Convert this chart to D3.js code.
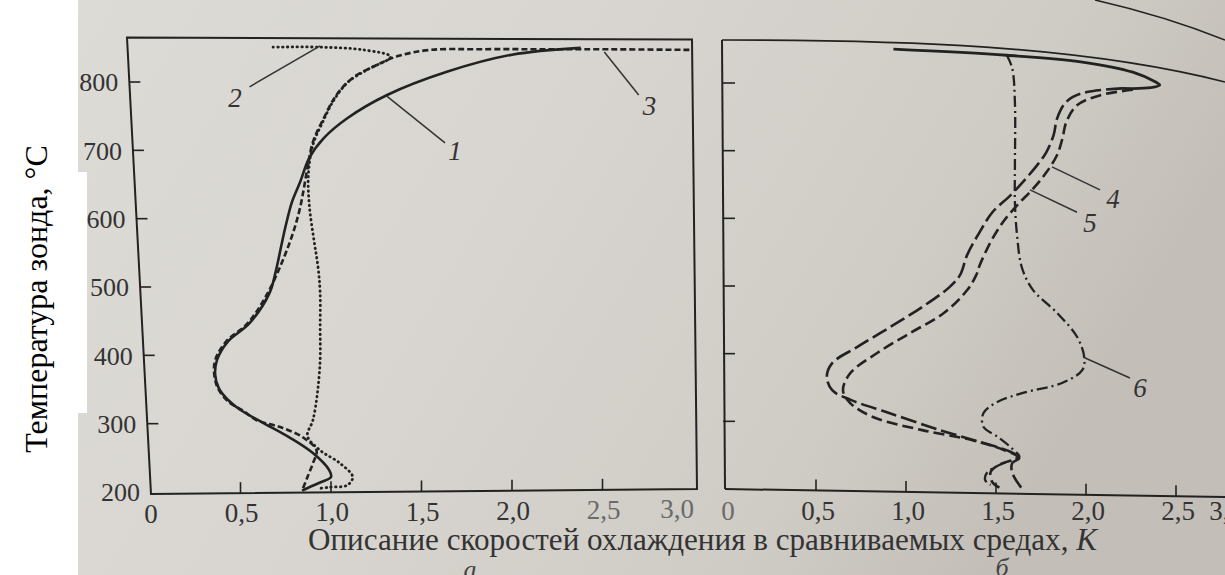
<!DOCTYPE html>
<html><head><meta charset="utf-8">
<script src="https://cdn.jsdelivr.net/npm/d3@7"></script>
<style>
body{margin:0;background:#fff}
svg{display:block}
</style>
</head><body>
<svg id="c" width="1225" height="575"></svg>
<script>
// ---------- data ----------
const xTicks = [0, 0.5, 1, 1.5, 2, 2.5, 3];
const xTickLabels = ["0", "0,5", "1,0", "1,5", "2,0", "2,5", "3,0"];
const yTicks = [200, 300, 400, 500, 600, 700, 800];
const yTickLabels = ["200", "300", "400", "500", "600", "700", "800"];

// panel а : [K, °C]
const curve1 = [[2.38,850],[2.0,840],[1.64,815],[1.31,781],[1.09,747],[0.96,718],[0.88,689],[0.83,654],[0.785,625],[0.75,590],[0.725,560],[0.70,529],[0.66,491],[0.55,447],[0.43,420],[0.37,393],[0.36,372],[0.38,352],[0.43,335],[0.50,320],[0.62,302],[0.77,280],[0.90,257],[0.99,232],[1.0,222],[0.95,215],[0.88,207],[0.84,202]];
const curve2 = [[0.68,851],[0.94,851],[1.18,847],[1.33,837],[1.20,818],[1.09,799],[1.01,771],[0.955,742],[0.90,708],[0.875,664],[0.88,620],[0.905,570],[0.928,530],[0.94,491],[0.94,440],[0.94,393],[0.925,345],[0.90,305],[0.87,282],[0.94,261],[1.05,242],[1.12,222],[1.09,210],[0.99,207],[0.93,205]];
const curve3 = [[2.98,847],[2.47,848],[2.19,848],[1.82,848],[1.55,847],[1.37,838],[1.23,822],[1.12,806],[1.03,781],[0.96,747],[0.90,712],[0.87,674],[0.83,617],[0.79,579],[0.735,540],[0.65,491],[0.54,447],[0.42,420],[0.36,393],[0.355,372],[0.375,352],[0.43,333],[0.52,318],[0.59,305],[0.72,295],[0.845,280],[0.92,261],[0.90,242],[0.87,222],[0.845,205]];

// panel б
const commonTop = [[0.93,850],[1.56,841],[1.98,831],[2.26,816],[2.39,801],[2.41,797],[2.36,793],[2.2,792]];
const curve4 = [[2.26,790],[2.08,782],[1.95,767],[1.89,742],[1.87,719],[1.84,694],[1.78,668],[1.71,645],[1.62,620],[1.54,595],[1.47,565],[1.41,531],[1.39,516],[1.34,494],[1.21,460],[1.02,430],[0.84,401],[0.69,371],[0.65,346],[0.69,327],[0.82,306],[1.09,287],[1.37,272],[1.54,258],[1.62,247],[1.52,236],[1.47,225],[1.48,210],[1.52,202]];
const curve5 = [[2.2,792],[1.98,785],[1.89,772],[1.84,748],[1.82,723],[1.78,698],[1.73,679],[1.65,654],[1.58,634],[1.48,609],[1.41,580],[1.34,546],[1.30,516],[1.24,498],[1.09,469],[0.91,439],[0.73,410],[0.59,386],[0.56,366],[0.59,346],[0.69,332],[0.91,312],[1.19,287],[1.43,268],[1.58,255],[1.63,246],[1.59,238],[1.59,224],[1.64,202]];
const curve6 = [[1.56,841],[1.59,822],[1.605,772],[1.605,674],[1.605,624],[1.617,575],[1.644,527],[1.706,494],[1.84,460],[1.95,425],[1.99,395],[1.98,376],[1.87,357],[1.65,342],[1.51,329],[1.43,312],[1.43,292],[1.51,277],[1.58,262],[1.63,247],[1.54,238],[1.45,224],[1.44,213],[1.47,206]];

// curve labels: [label, textK, textT, leaderFromK, leaderFromT, leaderToK, leaderToT]
const labelsA = [["2",0.47,777,0.55,793,0.94,853],["3",2.76,766,2.70,781,2.51,844],["1",1.685,700,1.63,711,1.31,779]];
const labelsB = [["4",2.15,630,2.078,642,1.811,676],["5",2.022,594,1.95,609,1.689,642],["6",2.30,351,2.244,364,1.983,395]];

const yTitle = "Температура зонда,  °C";
const xTitle = "Описание скоростей охлаждения в сравниваемых средах, ";
const xTitleVar = "K";

// ---------- scales ----------
const xA = d3.scaleLinear().domain([0, 3]).range([150, 693]);
const yA = d3.scaleLinear().domain([200, 865]).range([492, 37.6]);
const xB = d3.scaleLinear().domain([0, 3]).range([726, 1266]);
const yB = d3.scaleLinear().domain([200, 800]).range([489, 83]);

const FONT = '"Liberation Serif", Tinos, "Times New Roman", "Nimbus Roman", "DejaVu Serif", serif';
const svg = d3.select("#c").attr("font-family", FONT);
const defs = svg.append("defs");
const g = defs.append("linearGradient").attr("id","bg").attr("x1","0").attr("x2","1").attr("y1","0").attr("y2","0.3");
g.append("stop").attr("offset","0").attr("stop-color","#dddbd6");
g.append("stop").attr("offset","0.45").attr("stop-color","#d8d5d0");
g.append("stop").attr("offset","0.8").attr("stop-color","#cfcbc5");
g.append("stop").attr("offset","1").attr("stop-color","#c3bfb8");

svg.append("rect").attr("width",1225).attr("height",575).attr("fill","#fff");
svg.append("rect").attr("x",78).attr("y",0).attr("width",1147).attr("height",575).attr("fill","url(#bg)");

const ink = "#222";
const grey = "#333";

// ---------- panel а frame ----------
const aTopY = yA(865), aBotY = yA(200);
const leftEdgeA = y => (xA(0) - 23) + (y - aTopY) * 24 / (aBotY + 2 - aTopY);
const bottomA = x => (aBotY + 2) - (x - xA(0)) * 5 / (xA(3) - xA(0));
svg.append("path")
  .attr("d", `M${leftEdgeA(aTopY)},${aTopY} L${xA(3)-1},${aTopY+2} L${xA(3)+4},${bottomA(xA(3)+4)} L${xA(0)+1},${bottomA(xA(0))} Z`)
  .attr("fill","none").attr("stroke",ink).attr("stroke-width",2);

svg.append("g").selectAll("line").data(yTicks.slice(1)).join("line")
  .attr("x1", d => leftEdgeA(yA(d))).attr("x2", d => leftEdgeA(yA(d)) + 11)
  .attr("y1", d => yA(d)).attr("y2", d => yA(d))
  .attr("stroke", ink).attr("stroke-width", 1.6);
svg.append("g").selectAll("text").data(yTicks).join("text")
  .attr("x", d => leftEdgeA(yA(d)) - 11).attr("y", d => yA(d)).attr("dy","0.36em")
  .attr("text-anchor","end").attr("font-size",26).attr("fill",grey)
  .text((d,i) => yTickLabels[i]);

svg.append("g").selectAll("line").data(xTicks.slice(1, -1)).join("line")
  .attr("x1", d => xA(d)).attr("x2", d => xA(d))
  .attr("y1", d => bottomA(xA(d))).attr("y2", d => bottomA(xA(d)) - 11)
  .attr("stroke", ink).attr("stroke-width", 1.6);
svg.append("g").selectAll("text").data(xTicks).join("text")
  .attr("x", (d,i) => xA(d) + (i === xTicks.length-1 ? -16 : 1))
  .attr("y", d => bottomA(xA(d)) + 29)
  .attr("text-anchor","middle").attr("font-size",27)
  .attr("fill", (d,i) => i >= 5 ? "#6a6a6a" : grey)
  .text((d,i) => xTickLabels[i]);

// ---------- panel б frame ----------
const bL = xB(0) - 4;
const bottomB = x => yB(200) + (x - bL) * 8 / 500;
svg.append("path").attr("d", `M${bL},${yB(865)+1} L${bL+3},${yB(200)}`)
  .attr("stroke",ink).attr("stroke-width",2).attr("fill","none");
svg.append("path").attr("d", `M${bL+3},${yB(200)} L1225,${bottomB(1225)}`)
  .attr("stroke",ink).attr("stroke-width",2).attr("fill","none");
svg.append("path").attr("d", `M${bL},${yB(865)+1} C900,${yB(865)+1} 1080,45 1225,82`)
  .attr("stroke",ink).attr("stroke-width",1.6).attr("fill","none");
svg.append("path").attr("d", "M1095,0 Q1165,16 1225,40")
  .attr("stroke",ink).attr("stroke-width",1.5).attr("fill","none");

svg.append("g").selectAll("line").data(yTicks.slice(1)).join("line")
  .attr("x1", bL + 1).attr("x2", bL + 13)
  .attr("y1", d => yB(d)).attr("y2", d => yB(d))
  .attr("stroke", ink).attr("stroke-width", 1.6);
svg.append("g").selectAll("line").data(xTicks.slice(1, -1)).join("line")
  .attr("x1", d => xB(d)).attr("x2", d => xB(d))
  .attr("y1", d => bottomB(xB(d))).attr("y2", d => bottomB(xB(d)) - 11)
  .attr("stroke", ink).attr("stroke-width", 1.6);
svg.append("g").selectAll("text").data(xTicks).join("text")
  .attr("x", (d,i) => xB(d) + (i === xTicks.length-1 ? -40 : 2))
  .attr("y", 520)
  .attr("text-anchor","middle").attr("font-size",27)
  .attr("fill", (d,i) => i === 0 ? "#6a6a6a" : grey)
  .text((d,i) => xTickLabels[i]);

// ---------- curves ----------
const lineA = d3.line().x(d => xA(d[0])).y(d => yA(d[1])).curve(d3.curveCatmullRom.alpha(0.5));
const lineB = d3.line().x(d => xB(d[0])).y(d => yB(d[1])).curve(d3.curveCatmullRom.alpha(0.5));

const drawA = (data, dash, w, cap) => svg.append("path").attr("d", lineA(data))
  .attr("fill","none").attr("stroke",ink).attr("stroke-width",w)
  .attr("stroke-dasharray",dash).attr("stroke-linecap",cap||"butt").attr("stroke-linejoin","round");
const drawB = (data, dash, w, cap) => svg.append("path").attr("d", lineB(data))
  .attr("fill","none").attr("stroke",ink).attr("stroke-width",w)
  .attr("stroke-dasharray",dash).attr("stroke-linecap",cap||"butt").attr("stroke-linejoin","round");

drawA(curve2, "0.5,4.3", 2.8, "round");
drawA(curve3, "6,3", 2.6);
drawA(curve1, null, 2.6);

drawB(curve6, "11,4,2,4", 2.3);
drawB(curve4, "11,5", 2.6);
drawB(curve5, "16,5", 2.6);
drawB(commonTop, null, 2.8);

// ---------- curve labels ----------
function drawLabels(list, xs, ys) {
  const gl = svg.append("g");
  gl.selectAll("line").data(list).join("line")
    .attr("x1", d => xs(d[3])).attr("y1", d => ys(d[4]))
    .attr("x2", d => xs(d[5])).attr("y2", d => ys(d[6]))
    .attr("stroke","#333").attr("stroke-width",1.5);
  gl.selectAll("text").data(list).join("text")
    .attr("x", d => xs(d[1])).attr("y", d => ys(d[2])).attr("dy","0.36em")
    .attr("text-anchor","middle").attr("font-size",27).attr("font-style","italic")
    .attr("fill", grey).text(d => d[0]);
}
drawLabels(labelsA, xA, yA);
drawLabels(labelsB, xB, yB);

// ---------- titles ----------
const xt = svg.append("text").attr("x",308).attr("y",550).attr("font-size",28).attr("fill","#333");
xt.append("tspan").text(xTitle);
xt.append("tspan").attr("font-style","italic").text(xTitleVar);
const w0 = xt.node().getComputedTextLength();
xt.attr("font-size", Math.min(31.5, 28 * 789 / w0));

svg.append("text").attr("x", 470).attr("y", 578).attr("text-anchor","middle")
  .attr("font-size",26).attr("font-style","italic").attr("fill","#444").text("а");
svg.append("text").attr("x", 1002).attr("y", 576).attr("text-anchor","middle")
  .attr("font-size",26).attr("font-style","italic").attr("fill","#444").text("б");

// white patch of the pasted label
svg.append("rect").attr("x",0).attr("y",172).attr("width",87).attr("height",241).attr("fill","#fff");

const yt = svg.append("text").attr("transform","translate(47,299) rotate(-90)")
  .attr("text-anchor","middle").attr("font-size",28).attr("fill","#000").text(yTitle);
const w1 = yt.node().getComputedTextLength();
yt.attr("font-size", Math.min(32, 28 * 312 / w1));
</script>
</body></html>
